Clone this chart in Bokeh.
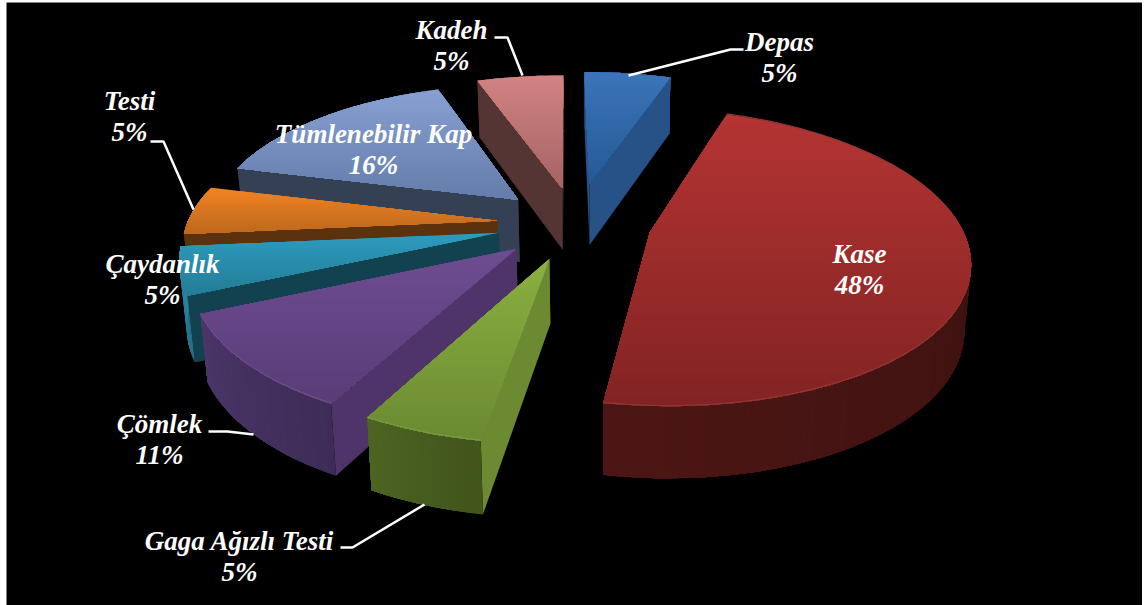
import numpy as np
from bokeh.plotting import figure
from bokeh.models import Range1d, ColumnDataSource
from bokeh.core.properties import value
from bokeh.embed import file_html
from bokeh.resources import INLINE

names = ["Depas","Kase","Gaga Ağızlı Testi","Çömlek","Çaydanlık","Testi","Tümlenebilir Kap","Kadeh"]
shares = [5.40,47.41,5.12,10.43,5.18,5.38,15.87,5.38]
pct_labels = ["5%","48%","5%","11%","5%","5%","16%","5%"]
pulled = [0.301,0.244,0.253,0.254,0.253,0.252,0.255,0.263]
top_hi = ["#3b74b8","#b43432","#8baf40","#6e4c91","#2d9bbe","#f08223","#87a0d2","#d28282"]
top_lo = ["#255a96","#822323","#6b8a32","#5a3c78","#237d96","#be691e","#647daa","#a56464"]
cut = ["#265287","#3c1210","#6c8a32","#4e3468","#12414f","#5c320e","#344155","#553434"]
wall_l = ["#265287","#4c1614","#4c6321","#4a3668","#2d82a0","#5c320e","#344155","#553434"]
wall_r = ["#265287","#300f0d","#41551c","#3e2c58","#23708a","#5c320e","#344155","#553434"]
paint_order = [6,7,0,1,5,4,3,2]
x0,yh,K,H,D,cx = 550.76,-640.66,1890.7,5259.5,6.0889,0.0780

def P(X,Y):
    s=1/(D+Y); return x0+K*(X+cx)*s, yh+H*s
def drop(x,y):
    return x+(600-x)*.018, y+53+.047*y
def mix(a,b,t):
    ca=[int(a[i:i+2],16) for i in (1,3,5)];cb=[int(b[i:i+2],16) for i in (1,3,5)]
    return "#%02x%02x%02x"%tuple(int(round(u+(w-u)*t)) for u,w in zip(ca,cb))
def clip(poly,y):
    out=[];n=len(poly)
    for i in range(n):
        a,b=poly[i],poly[(i+1)%n]
        ia=a[1]>=y; ib=b[1]>=y
        if ia: out.append(a)
        if ia!=ib:
            t=(y-a[1])/(b[1]-a[1]); out.append((a[0]+(b[0]-a[0])*t,y))
    return out

xs,ys,fc=[],[],[]
def add(poly,col):
    xs.append([pt[0] for pt in poly]);ys.append([pt[1] for pt in poly]);fc.append(col)
v=np.array(shares)
starts=np.concatenate([[0],np.cumsum(v)[:-1]])*3.6
for i in paint_order:
    t0=np.radians(starts[i]);t1=np.radians(starts[i]+3.6*v[i]);m=(t0+t1)/2
    ax,ay=pulled[i]*np.sin(m),pulled[i]*np.cos(m)
    ts=np.linspace(t0,t1,max(6,int(v[i]*3)))
    rim=[P(ax+np.sin(t),ay+np.cos(t)) for t in ts]
    apex=P(ax,ay)
    for edge in (rim[0],rim[-1]):
        add([apex,edge,drop(*edge),drop(*apex)],cut[i])
    for k in range(len(rim)-1):
        add(rim[k:]+[drop(*pt) for pt in rim[k:]][::-1],mix(wall_l[i],wall_r[i],1-k/(len(rim)-2)))
    top=[apex]+rim
    lo=min(pt[1] for pt in top);hi=max(pt[1] for pt in top);nb=max(4,int((hi-lo)/3))
    for b in range(nb):
        pl=clip(top,lo+(hi-lo)*b/nb)
        if len(pl)>=3: add(pl,mix(top_hi[i],top_lo[i],b/(nb-1)))
    if i in (1,2,3):
        add(rim+[(pt[0],pt[1]-1.2) for pt in rim][::-1],mix(top_lo[i],"#ffffff",.1))

p=figure(width=1136,height=603,x_range=Range1d(6,1142),y_range=Range1d(605,2),output_backend="svg",toolbar_location=None,
         background_fill_color="black",border_fill_color="black",min_border=0,outline_line_color=None,
         styles={"position":"absolute","left":"6px","top":"2px"})
p.axis.visible=False;p.grid.visible=False
p.patches("xs","ys",source=ColumnDataSource(dict(xs=xs,ys=ys,fc=fc)),fill_color="fc",line_color=None)
for lx,ly in [([743,730,628],[49,49,75]),([494,507,522],[37,37,75]),([150,163,193],[141,141,209]),([208,227,253],[431,431,434]),([340,352,424],[547,547,504])]:
    p.line(lx,ly,line_color="white",line_width=2.5)
lab_x=[779,859,239,159,162,129,373,451]
lab_y=[41,253,540,423,263,100,133,29]
style=dict(text_color="white",text_align="center",text_baseline="middle",text_font=value("Liberation Serif"),text_font_style="bold italic",text_font_size="27px")
p.text(lab_x,lab_y,text=names,**style)
p.text(lab_x,[y+31 for y in lab_y],text=pct_labels,**style)
open("out.html","w").write(file_html(p,INLINE))
